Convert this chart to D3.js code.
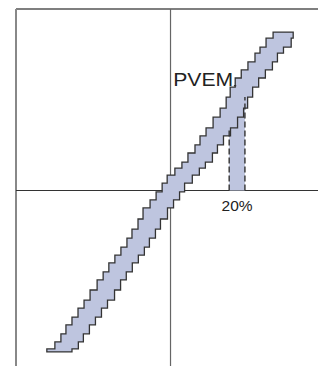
<!DOCTYPE html>
<html>
<head>
<meta charset="utf-8">
<script src="https://cdn.jsdelivr.net/npm/d3@7"></script>
<style>
  body { margin: 0; background: #fff; }
  svg { display: block; }
  .band { fill: #bec5df; stroke: #333; stroke-width: 1.3; stroke-linejoin: miter; }
  .label { font-family: "Liberation Sans", Arial, sans-serif; fill: #222; }
</style>
</head>
<body>
<div id="chart"></div>
<script>
// seat share levels (%) of the band, bottom to top
const seatLevels = [-48.2, -47.3, -45.2, -42.8, -40.1, -37.8, -35.1, -32.7, -29.7, -26.7,
  -24.3, -21.6, -19.3, -16.9, -14.2, -11.5, -8.5, -5.2, -2.8, -0.4,
  2.2, 4.6, 6.7, 8.5, 11.2, 13.6, 16.3, 18.7, 21.9, 24.6,
  27.9, 30.9, 33.6, 36.0, 38.4, 41.0, 42.8, 45.5, 47.3];
// vote (%) where the upper edge reaches each level
const voteLow = [-36.9, -36.9, -34.5, -32.7, -31.2, -29.4, -27.6, -25.8, -24.0, -21.9,
  -20.1, -18.4, -16.6, -14.8, -13.0, -11.5, -9.7, -8.2, -6.1, -4.3,
  -2.5, -1.0, 1.3, 3.4, 5.2, 7.3, 8.8, 10.6, 12.7, 14.8,
  16.6, 17.8, 19.3, 21.1, 23.1, 25.2, 26.7, 28.5, 30.6];
// vote (%) where the lower edge climbs to the next level
const voteHigh = [-30.9, -29.4, -27.5, -26.0, -24.2, -22.4, -20.6, -18.8, -16.7, -14.9,
  -13.2, -11.4, -9.6, -7.8, -6.3, -4.5, -3.0, -0.9, 0.9, 2.7,
  4.2, 6.5, 8.6, 10.4, 12.5, 14.0, 15.8, 17.9, 20.0, 21.8,
  23.0, 24.5, 26.3, 28.3, 30.4, 31.9, 33.7, 36.0, 36.6];
const partyName = "PVEM";
const markVote = [17.5, 22.2];
const markLabel = "20%";

const W = 318, H = 366;
const svg = d3.select("#chart").append("svg").attr("width", W).attr("height", H);

const x = d3.scaleLinear().domain([-46.1, 44.0]).range([16, 318]);
const y = d3.scaleLinear().domain([-52.4, 54.2]).range([366, 9]);

const data = seatLevels.map((s, i) => ({ s, lo: voteLow[i], hi: voteHigh[i] }));

const area = d3.area()
  .y(d => y(d.s))
  .x0(d => x(d.lo))
  .x1(d => x(d.hi))
  .curve(d3.curveStepAfter);

// lower edge level at a given vote
function lowerAt(v) {
  let s = seatLevels[0];
  voteHigh.forEach((h, i) => { if (h <= v && i + 1 < seatLevels.length) s = seatLevels[i + 1]; });
  return s;
}

// frame
svg.append("line").attr("x1", x(-46.1)).attr("x2", x(44)).attr("y1", y(54.2)).attr("y2", y(54.2))
  .attr("stroke", "#555").attr("stroke-width", 1.5);
svg.append("line").attr("x1", x(-46.1)).attr("x2", x(-46.1)).attr("y1", y(54.2)).attr("y2", H)
  .attr("stroke", "#888").attr("stroke-width", 2);

// axes through origin
svg.append("line").attr("x1", x(-46.1)).attr("x2", W).attr("y1", y(0)).attr("y2", y(0))
  .attr("stroke", "#333").attr("stroke-width", 1.2);
svg.append("line").attr("x1", x(0)).attr("x2", x(0)).attr("y1", y(54.2)).attr("y2", H)
  .attr("stroke", "#666").attr("stroke-width", 1.2);

// column under the band at the marked vote range
svg.append("clipPath").attr("id", "col").append("rect")
  .attr("x", x(markVote[0])).attr("width", x(markVote[1]) - x(markVote[0]))
  .attr("y", 0).attr("height", y(0));
svg.append("path")
  .datum(data)
  .attr("clip-path", "url(#col)")
  .attr("fill", "#bec5df")
  .attr("d", d3.area().y(d => y(d.s)).x0(d => x(d.lo)).x1(x(50)).curve(d3.curveStepAfter));

svg.append("path").datum(data).attr("class", "band").attr("d", area);

markVote.forEach(v => {
  svg.append("line")
    .attr("x1", x(v)).attr("x2", x(v))
    .attr("y1", y(0)).attr("y2", y(lowerAt(v)))
    .attr("stroke", "#333").attr("stroke-width", 1.4)
    .attr("stroke-dasharray", "6,3");
});

svg.append("text").attr("class", "label")
  .attr("x", x(0.8)).attr("y", y(31.3))
  .attr("font-size", 18).attr("textLength", 60).attr("lengthAdjust", "spacingAndGlyphs")
  .text(partyName);
svg.append("line").attr("x1", x(18.9)).attr("x2", x(19.6)).attr("y1", y(31.3)).attr("y2", y(31.3))
  .attr("stroke", "#333").attr("stroke-width", 1.4);

svg.append("text").attr("class", "label")
  .attr("x", x((markVote[0] + markVote[1]) / 2)).attr("y", y(-6.2))
  .attr("text-anchor", "middle").attr("font-size", 15.5)
  .text(markLabel);
</script>
</body>
</html>
